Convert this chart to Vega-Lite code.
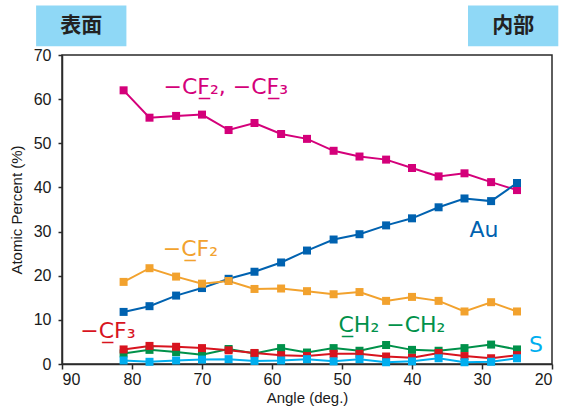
{
  "$schema": "https://vega.github.io/schema/vega-lite/v6.json",
  "width": 490,
  "height": 309,
  "autosize": "none",
  "padding": {"left": 62, "top": 55, "right": 11, "bottom": 44},
  "background": "white",
  "config": {
    "font": "Liberation Sans",
    "view": {"stroke": "#2a2a2a", "strokeWidth": 1.5},
    "axis": {"domainColor": "#2a2a2a", "domainWidth": 1.5, "tickColor": "#2a2a2a", "tickWidth": 1.5, "grid": false, "labelColor": "#1a1a1a", "titleColor": "#1a1a1a", "labelFontSize": 16, "titleFontSize": 15, "titleFontWeight": "normal"}
  },
  "datasets": {
    "pts": [
      {"angle": 81.2, "series": "CF2CF3", "value": 62.0}, {"angle": 77.5, "series": "CF2CF3", "value": 55.8}, {"angle": 73.7, "series": "CF2CF3", "value": 56.2}, {"angle": 70.0, "series": "CF2CF3", "value": 56.5}, {"angle": 66.2, "series": "CF2CF3", "value": 53.0}, {"angle": 62.5, "series": "CF2CF3", "value": 54.6}, {"angle": 58.7, "series": "CF2CF3", "value": 52.1}, {"angle": 55.0, "series": "CF2CF3", "value": 51.0}, {"angle": 51.2, "series": "CF2CF3", "value": 48.3}, {"angle": 47.5, "series": "CF2CF3", "value": 47.0}, {"angle": 43.7, "series": "CF2CF3", "value": 46.3}, {"angle": 40.0, "series": "CF2CF3", "value": 44.4}, {"angle": 36.2, "series": "CF2CF3", "value": 42.5}, {"angle": 32.5, "series": "CF2CF3", "value": 43.2}, {"angle": 28.7, "series": "CF2CF3", "value": 41.2}, {"angle": 25.0, "series": "CF2CF3", "value": 39.4},
      {"angle": 81.2, "series": "Au", "value": 11.8}, {"angle": 77.5, "series": "Au", "value": 13.1}, {"angle": 73.7, "series": "Au", "value": 15.5}, {"angle": 70.0, "series": "Au", "value": 17.2}, {"angle": 66.2, "series": "Au", "value": 19.3}, {"angle": 62.5, "series": "Au", "value": 20.9}, {"angle": 58.7, "series": "Au", "value": 23.0}, {"angle": 55.0, "series": "Au", "value": 25.7}, {"angle": 51.2, "series": "Au", "value": 28.2}, {"angle": 47.5, "series": "Au", "value": 29.4}, {"angle": 43.7, "series": "Au", "value": 31.4}, {"angle": 40.0, "series": "Au", "value": 33.0}, {"angle": 36.2, "series": "Au", "value": 35.5}, {"angle": 32.5, "series": "Au", "value": 37.5}, {"angle": 28.7, "series": "Au", "value": 36.9}, {"angle": 25.0, "series": "Au", "value": 41.0},
      {"angle": 81.2, "series": "CF2", "value": 18.6}, {"angle": 77.5, "series": "CF2", "value": 21.7}, {"angle": 73.7, "series": "CF2", "value": 19.8}, {"angle": 70.0, "series": "CF2", "value": 18.2}, {"angle": 66.2, "series": "CF2", "value": 18.8}, {"angle": 62.5, "series": "CF2", "value": 17.0}, {"angle": 58.7, "series": "CF2", "value": 17.1}, {"angle": 55.0, "series": "CF2", "value": 16.5}, {"angle": 51.2, "series": "CF2", "value": 15.8}, {"angle": 47.5, "series": "CF2", "value": 16.3}, {"angle": 43.7, "series": "CF2", "value": 14.3}, {"angle": 40.0, "series": "CF2", "value": 15.2}, {"angle": 36.2, "series": "CF2", "value": 14.3}, {"angle": 32.5, "series": "CF2", "value": 11.9}, {"angle": 28.7, "series": "CF2", "value": 14.0}, {"angle": 25.0, "series": "CF2", "value": 11.9},
      {"angle": 81.2, "series": "CH2", "value": 2.4}, {"angle": 77.5, "series": "CH2", "value": 3.2}, {"angle": 73.7, "series": "CH2", "value": 2.7}, {"angle": 70.0, "series": "CH2", "value": 2.1}, {"angle": 66.2, "series": "CH2", "value": 3.4}, {"angle": 62.5, "series": "CH2", "value": 2.4}, {"angle": 58.7, "series": "CH2", "value": 3.6}, {"angle": 55.0, "series": "CH2", "value": 2.6}, {"angle": 51.2, "series": "CH2", "value": 3.6}, {"angle": 47.5, "series": "CH2", "value": 3.0}, {"angle": 43.7, "series": "CH2", "value": 4.3}, {"angle": 40.0, "series": "CH2", "value": 3.2}, {"angle": 36.2, "series": "CH2", "value": 3.0}, {"angle": 32.5, "series": "CH2", "value": 3.6}, {"angle": 28.7, "series": "CH2", "value": 4.4}, {"angle": 25.0, "series": "CH2", "value": 3.3},
      {"angle": 81.2, "series": "CF3", "value": 3.3}, {"angle": 77.5, "series": "CF3", "value": 4.1}, {"angle": 73.7, "series": "CF3", "value": 3.9}, {"angle": 70.0, "series": "CF3", "value": 3.6}, {"angle": 66.2, "series": "CF3", "value": 3.1}, {"angle": 62.5, "series": "CF3", "value": 2.5}, {"angle": 58.7, "series": "CF3", "value": 2.0}, {"angle": 55.0, "series": "CF3", "value": 1.8}, {"angle": 51.2, "series": "CF3", "value": 2.3}, {"angle": 47.5, "series": "CF3", "value": 2.3}, {"angle": 43.7, "series": "CF3", "value": 1.7}, {"angle": 40.0, "series": "CF3", "value": 1.4}, {"angle": 36.2, "series": "CF3", "value": 2.5}, {"angle": 32.5, "series": "CF3", "value": 1.8}, {"angle": 28.7, "series": "CF3", "value": 1.3}, {"angle": 25.0, "series": "CF3", "value": 2.0},
      {"angle": 81.2, "series": "S", "value": 0.8}, {"angle": 77.5, "series": "S", "value": 0.5}, {"angle": 73.7, "series": "S", "value": 0.8}, {"angle": 70.0, "series": "S", "value": 1.0}, {"angle": 66.2, "series": "S", "value": 1.1}, {"angle": 62.5, "series": "S", "value": 0.7}, {"angle": 58.7, "series": "S", "value": 0.8}, {"angle": 55.0, "series": "S", "value": 1.1}, {"angle": 51.2, "series": "S", "value": 0.6}, {"angle": 47.5, "series": "S", "value": 1.1}, {"angle": 43.7, "series": "S", "value": 0.4}, {"angle": 40.0, "series": "S", "value": 0.6}, {"angle": 36.2, "series": "S", "value": 1.3}, {"angle": 32.5, "series": "S", "value": 0.4}, {"angle": 28.7, "series": "S", "value": 0.5}, {"angle": 25.0, "series": "S", "value": 1.3}
    ],
    "labels": [
      {"text": "−CF̲₂, −CF̲₃", "series": "CF2CF3", "angle": 75.5, "value": 62.7},
      {"text": "Au", "series": "Au", "angle": 31.8, "value": 30.3},
      {"text": "−C̲F₂", "series": "CF2", "angle": 75.6, "value": 26.0},
      {"text": "−C̲F₃", "series": "CF3", "angle": 87.4, "value": 7.5},
      {"text": "C̲H₂ −CH₂", "series": "CH2", "angle": 50.5, "value": 8.9},
      {"text": "S", "series": "S", "angle": 23.3, "value": 4.3}
    ],
    "boxes": [
      {"text": "表面", "a1": 93.7, "a2": 80.8, "v1": 72.0, "v2": 81.2},
      {"text": "内部", "a1": 32.0, "a2": 19.1, "v1": 72.0, "v2": 81.2}
    ]
  },
  "layer": [
    {
      "data": {"name": "pts"},
      "mark": {"type": "line", "strokeWidth": 2},
      "encoding": {
        "x": {"field": "angle", "type": "quantitative", "scale": {"domain": [20, 90], "reverse": true, "nice": false}, "axis": {"values": [90, 80, 70, 60, 50, 40, 30, 20], "title": "Angle (deg.)", "tickSize": 5, "labelPadding": 2, "titlePadding": 3}},
        "y": {"field": "value", "type": "quantitative", "scale": {"domain": [0, 70], "nice": false}, "axis": {"values": [0, 10, 20, 30, 40, 50, 60, 70], "title": "Atomic Percent (%)", "tickSize": 4, "labelPadding": 7, "titlePadding": 9}},
        "color": {"field": "series", "type": "nominal", "scale": {"domain": ["CF2CF3", "Au", "CF2", "CH2", "CF3", "S"], "range": ["#d4007a", "#0062b0", "#f2a22e", "#00914a", "#d8141f", "#00aeef"]}, "legend": null},
        "order": {"field": "angle", "type": "quantitative"}
      }
    },
    {
      "data": {"name": "pts"},
      "mark": {"type": "square", "size": 64, "opacity": 1},
      "encoding": {
        "x": {"field": "angle", "type": "quantitative"},
        "y": {"field": "value", "type": "quantitative"},
        "color": {"field": "series", "type": "nominal", "legend": null}
      }
    },
    {
      "data": {"name": "labels"},
      "mark": {"type": "text", "align": "left", "baseline": "middle", "fontSize": 22, "font": "DejaVu Sans"},
      "encoding": {
        "x": {"field": "angle", "type": "quantitative"},
        "y": {"field": "value", "type": "quantitative"},
        "text": {"field": "text"},
        "color": {"field": "series", "type": "nominal", "legend": null}
      }
    },
    {
      "data": {"name": "boxes"},
      "mark": {"type": "rect", "color": "#8fd8f6"},
      "encoding": {
        "x": {"field": "a1", "type": "quantitative"},
        "x2": {"field": "a2"},
        "y": {"field": "v1", "type": "quantitative"},
        "y2": {"field": "v2"}
      }
    },
    {
      "data": {"name": "boxes"},
      "transform": [{"calculate": "(datum.a1 + datum.a2) / 2", "as": "am"}, {"calculate": "(datum.v1 + datum.v2) / 2", "as": "vm"}],
      "mark": {"type": "text", "align": "center", "baseline": "middle", "fontSize": 21, "fontWeight": "bold", "font": "Noto Sans CJK JP", "color": "#222222"},
      "encoding": {
        "x": {"field": "am", "type": "quantitative"},
        "y": {"field": "vm", "type": "quantitative"},
        "text": {"field": "text"}
      }
    }
  ]
}
